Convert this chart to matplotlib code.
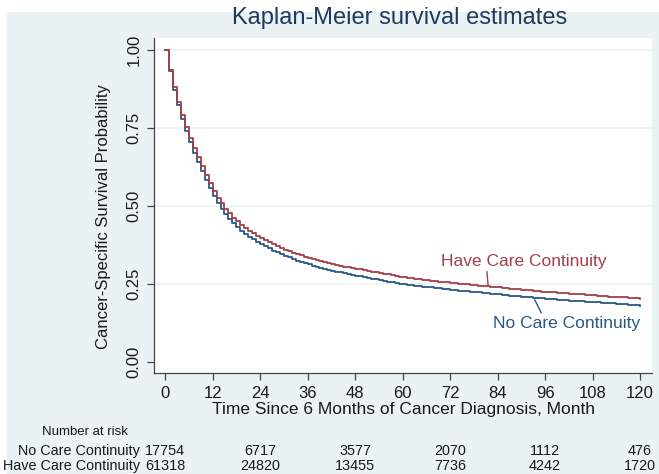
import matplotlib
matplotlib.use("Agg")
import matplotlib.pyplot as plt
import matplotlib.transforms as mtransforms
from matplotlib.patches import Rectangle

plt.rcParams['font.family'] = ['Liberation Sans', 'DejaVu Sans']

# survival estimates, one value per month
months = list(range(0, 121))
have_care = [
    1.000, .936, .880, .833, .790, .752, .718, .686, .656, .627,
    .600, .573, .548, .527, .508, .491, .476, .463, .451, .440,
    .430, .421, .412, .404, .397, .390, .383, .377, .371, .365,
    .360, .355, .350, .346, .342, .338, .334, .330, .327, .324,
    .321, .318, .315, .312, .309, .306, .304, .302, .299, .297,
    .294, .292, .290, .287, .285, .283, .281, .279, .277, .274,
    .272, .270, .269, .267, .266, .264, .263, .261, .260, .258,
    .257, .255, .254, .253, .251, .250, .249, .248, .246, .245,
    .244, .243, .241, .240, .239, .238, .237, .235, .234, .233,
    .232, .231, .230, .228, .227, .226, .225, .224, .223, .222,
    .221, .220, .219, .219, .218, .217, .216, .215, .214, .213,
    .212, .211, .210, .210, .209, .208, .207, .206, .205, .204,
    .203]
no_care = [
    1.000, .932, .873, .825, .780, .740, .704, .671, .640, .611,
    .583, .556, .531, .509, .490, .473, .458, .444, .432, .421,
    .411, .402, .393, .385, .378, .371, .364, .357, .351, .345,
    .340, .335, .330, .325, .321, .317, .313, .309, .305, .302,
    .299, .296, .293, .290, .287, .284, .282, .279, .277, .275,
    .272, .270, .267, .265, .263, .260, .258, .256, .254, .251,
    .249, .248, .246, .245, .243, .242, .240, .239, .238, .236,
    .235, .233, .232, .231, .229, .228, .227, .226, .224, .223,
    .222, .221, .219, .218, .217, .216, .215, .213, .212, .211,
    .210, .209, .208, .206, .205, .204, .203, .202, .201, .200,
    .199, .198, .197, .197, .196, .195, .194, .193, .192, .191,
    .190, .189, .188, .188, .187, .186, .185, .184, .183, .182,
    .181]

xticks = [0, 12, 24, 36, 48, 60, 72, 84, 96, 108, 120]
yticks = [0.0, 0.25, 0.5, 0.75, 1.0]

risk_times = [0, 24, 48, 72, 96, 120]
risk_no = [17754, 6717, 3577, 2070, 1112, 476]
risk_have = [61318, 24820, 13455, 7736, 4242, 1720]

RED = '#A33F4A'
BLUE = '#2A5883'
BG = '#EAF2F3'
TXT = '#1a1a1a'
W, H = 659, 474

fig = plt.figure(figsize=(W / 100, H / 100), dpi=100, facecolor='white')
fig.patches.append(Rectangle((7 / W, 0), 1, (H - 12) / H, transform=fig.transFigure,
                             facecolor=BG, edgecolor='none', zorder=-10))

ax = fig.add_axes([154 / W, 101 / H, (652 - 154) / W, (373 - 38) / H])
ax.set_facecolor('white')
for y in yticks[1:]:
    ax.axhline(y, color=BG, lw=1.2, zorder=0)

ax.step(months, no_care, where='post', color=BLUE, lw=1.3, zorder=3)
ax.step(months, have_care, where='post', color=RED, lw=1.3, zorder=3)

ax.set_xlim(-2.8, 123)
ax.set_ylim(-0.035, 1.038)
ax.set_xticks(xticks)
ax.set_yticks(yticks)
ax.set_yticklabels(['%.2f' % v for v in yticks], rotation=90, va='center')
ax.tick_params(labelsize=12, length=5, width=0.9, color='#444444', labelcolor=TXT, pad=4)
for s in ['top', 'right']:
    ax.spines[s].set_visible(False)
for s in ['left', 'bottom']:
    ax.spines[s].set_color('#444444')
    ax.spines[s].set_linewidth(0.9)

ax.set_xlabel('Time Since 6 Months of Cancer Diagnosis, Month', fontsize=12.5,
              color=TXT, labelpad=1)
ax.set_ylabel('Cancer-Specific Survival Probability', fontsize=12, color=TXT)
ax.yaxis.set_label_coords(-0.086, 0.466)

# curve labels with leader lines
ax.text(90.7, 0.321, 'Have Care Continuity', color=RED, fontsize=12.5, ha='center', va='center')
ax.plot([81.3, 81.6], [0.289, 0.245], color=RED, lw=1)
ax.text(101.3, 0.125, 'No Care Continuity', color=BLUE, fontsize=12.5, ha='center', va='center')
ax.plot([93.4, 95.0], [0.199, 0.158], color=BLUE, lw=1)

fig.text(400 / W, 1 - 18 / H, 'Kaplan-Meier survival estimates', fontsize=17,
         color='#1E3A5F', ha='center', va='center')

# number at risk table
trans = mtransforms.blended_transform_factory(ax.transData, fig.transFigure)
fig.text(85 / W, 1 - 432 / H, 'Number at risk', fontsize=9.5, ha='center', va='center', color=TXT)
fig.text(140 / W, 1 - 451 / H, 'No Care Continuity', fontsize=10.4, ha='right', va='center', color=TXT)
fig.text(140 / W, 1 - 466 / H, 'Have Care Continuity', fontsize=10.4, ha='right', va='center', color=TXT)
for t, a, b in zip(risk_times, risk_no, risk_have):
    ax.text(t, 1 - 451 / H, str(a), transform=trans, fontsize=10.4, ha='center', va='center', color=TXT)
    ax.text(t, 1 - 466 / H, str(b), transform=trans, fontsize=10.4, ha='center', va='center', color=TXT)

fig.savefig('out.png', dpi=100, facecolor=fig.get_facecolor())
